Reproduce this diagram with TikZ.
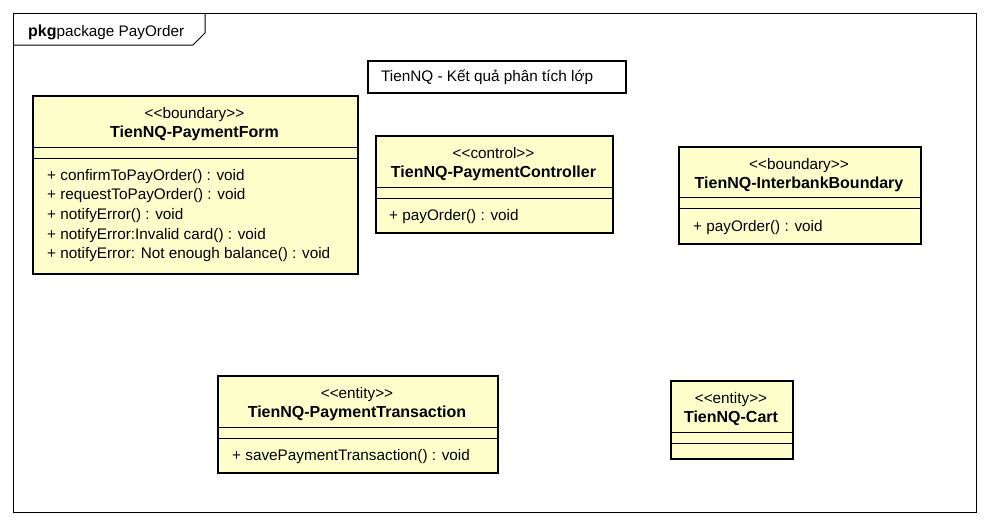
\documentclass[tikz,border=0pt]{standalone}
\usepackage{fontspec}
\setmainfont{Liberation Sans}[Ligatures=TeXOff]
\definecolor{umlfill}{HTML}{FFFFCC}
\newcommand{\fsreg}{\fontsize{15.3}{18}\selectfont}
\newcommand{\fsbold}{\fontsize{16}{18}\selectfont\bfseries}
\begin{document}
\begin{tikzpicture}[x=1pt,y=-1pt,
  cls/.style={draw, line width=2.3pt, fill=umlfill, anchor=north west, inner sep=0pt},
  sepline/.style={line width=0.9pt},
  stereo/.style={anchor=base, inner sep=0pt, font=\fsreg},
  cname/.style={anchor=base, inner sep=0pt, font=\fsbold},
  meth/.style={anchor=base west, inner sep=0pt, font=\fsreg},
  frameline/.style={draw, line width=1pt}]
\useasboundingbox (0,0) rectangle (989,525);
% package frame
\node[frameline, anchor=north west, minimum width=963pt, minimum height=499pt, inner sep=0pt] (pkg) at (13,13) {};
\coordinate (tabA) at (13,45);
\coordinate (tabB) at (193,45);
\coordinate (tabC) at (205,33);
\coordinate (tabD) at (205,13);
\draw[line width=1pt] (tabA) -- (tabB) -- (tabC) -- (tabD);
\node[anchor=base west, inner sep=0pt, font=\fsreg] (pkgtitle) at (28,36) {{\fsbold pkg}package PayOrder};
% title note
\node[draw, line width=2.3pt, anchor=north west, minimum width=258pt, minimum height=32pt, inner sep=0pt] (title) at (367,60) {};
\node[anchor=base west, inner sep=0pt, font=\fsreg] (titletext) at (381,81) {TienNQ - Kết quả phân tích lớp};

% PaymentForm
\node[cls, minimum width=325pt, minimum height=178pt] (pf) at (32,95) {};
\node[stereo] (pfs) at (194.5,118) {<<boundary>>};
\node[cname] (pfn) at (194.5,137) {TienNQ-PaymentForm};
\draw[sepline] (pf.west |- 0,147) -- (pf.east |- 0,147);
\draw[sepline] (pf.west |- 0,158) -- (pf.east |- 0,158);
\node[meth] (pfm1) at (47,180) {+ confirmToPayOrder() : void};
\node[meth] (pfm2) at (47,199.7) {+ requestToPayOrder() : void};
\node[meth] (pfm3) at (47,219.4) {+ notifyError() : void};
\node[meth] (pfm4) at (47,239.1) {+ notifyError:Invalid card() : void};
\node[meth] (pfm5) at (47,258.8) {+ notifyError: Not enough balance() : void};

% PaymentController
\node[cls, minimum width=237pt, minimum height=97pt] (pc) at (375,135) {};
\node[stereo] (pcs) at (493.5,158) {<<control>>};
\node[cname] (pcn) at (493.5,177) {TienNQ-PaymentController};
\draw[sepline] (pc.west |- 0,187) -- (pc.east |- 0,187);
\draw[sepline] (pc.west |- 0,198) -- (pc.east |- 0,198);
\node[meth] (pcm1) at (389,220) {+ payOrder() : void};

% InterbankBoundary
\node[cls, minimum width=242pt, minimum height=97pt] (ib) at (678,146) {};
\node[stereo] (ibs) at (799,169) {<<boundary>>};
\node[cname] (ibn) at (799,188) {TienNQ-InterbankBoundary};
\draw[sepline] (ib.west |- 0,197.5) -- (ib.east |- 0,197.5);
\draw[sepline] (ib.west |- 0,208.5) -- (ib.east |- 0,208.5);
\node[meth] (ibm1) at (693,231) {+ payOrder() : void};

% PaymentTransaction
\node[cls, minimum width=280pt, minimum height=97pt] (pt) at (217,375) {};
\node[stereo] (pts) at (357,398) {<<entity>>};
\node[cname] (ptn) at (357,417) {TienNQ-PaymentTransaction};
\draw[sepline] (pt.west |- 0,427) -- (pt.east |- 0,427);
\draw[sepline] (pt.west |- 0,438) -- (pt.east |- 0,438);
\node[meth] (ptm1) at (232,460) {+ savePaymentTransaction() : void};

% Cart
\node[cls, minimum width=122pt, minimum height=78pt] (ct) at (670,380) {};
\node[stereo] (cts) at (731,403) {<<entity>>};
\node[cname] (ctn) at (731,422) {TienNQ-Cart};
\draw[sepline] (ct.west |- 0,432) -- (ct.east |- 0,432);
\draw[sepline] (ct.west |- 0,443) -- (ct.east |- 0,443);
\end{tikzpicture}
\end{document}
